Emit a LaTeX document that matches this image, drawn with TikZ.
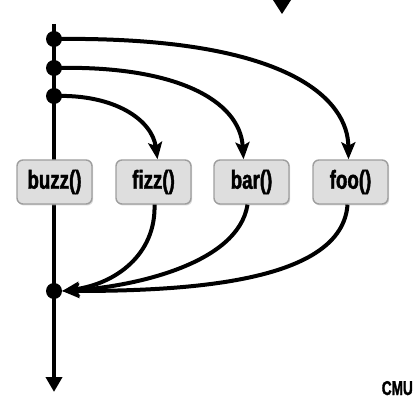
\documentclass[tikz,border=0pt]{standalone}
\usepackage{fontspec}
\newfontfamily\boxfont[FakeStretch=0.72,FakeBold=1.6]{Liberation Sans}
\newfontfamily\cmufont[FakeStretch=0.68,FakeBold=1.6]{Liberation Sans}
\usetikzlibrary{arrows.meta,shadows}
\begin{document}
\begin{tikzpicture}[x=1pt,y=-1pt,
  flow/.style={line width=4pt,-{Stealth[length=17pt,width=14pt,inset=3.5pt]}},
  dotnode/.style={circle,fill=black,inner sep=0pt,minimum size=16pt},
  fnbox/.style={draw=black!38,line width=1.4pt,fill=black!13,rounded corners=6pt,
    minimum width=75pt,minimum height=44pt,inner sep=0pt,
    drop shadow={shadow xshift=1.2pt,shadow yshift=-1.5pt,fill=black!25,opacity=0.6},
    font=\boxfont\bfseries\fontsize{26}{26}\selectfont}]
\useasboundingbox (0,0) rectangle (418,406);
% incoming arrow head at top
\fill (273,0) -- (291,0) -- (282,14) -- cycle;
% timeline
\coordinate (top) at (54,24);
\coordinate (bot) at (54,392);
\draw[line width=4.2pt,-{Triangle[length=15pt,width=16pt]}] (top) -- (bot);
% boxes
\node[fnbox] (buzz) at (54.5,182) {buzz()};
\node[fnbox] (fizz) at (153.5,182) {fizz()};
\node[fnbox] (bar) at (251.5,182) {bar()};
\node[fnbox] (foo) at (350.5,182) {foo()};
% dots
\node[dotnode] (d1) at (54,39) {};
\node[dotnode] (d2) at (54,68) {};
\node[dotnode] (d3) at (54,96) {};
\node[dotnode] (d4) at (54,291) {};
% spawn arrows
\draw[flow] (d1.center) .. controls (290,36) and (348,100) .. ([xshift=-2pt]foo.north);
\draw[flow] (d2.center) .. controls (175,65) and (240,100) .. ([xshift=-8pt]bar.north);
\draw[flow] (d3.center) .. controls (115,94) and (152,120) .. ([xshift=4pt]fizz.north);
% join arrows
\draw[flow] ([xshift=1pt]fizz.south) .. controls (156,255) and (115,284) .. (d4.east);
\draw[flow] ([xshift=-4pt]bar.south) .. controls (238,265) and (130,287) .. (d4.east);
\draw[flow] ([xshift=-3pt]foo.south) .. controls (342,282) and (190,291) .. (d4.east);
% label
\node[anchor=base east,inner sep=0pt,font=\cmufont\bfseries\fontsize{20}{20}\selectfont] (cmu) at (413,395) {CMU};
\end{tikzpicture}
\end{document}
